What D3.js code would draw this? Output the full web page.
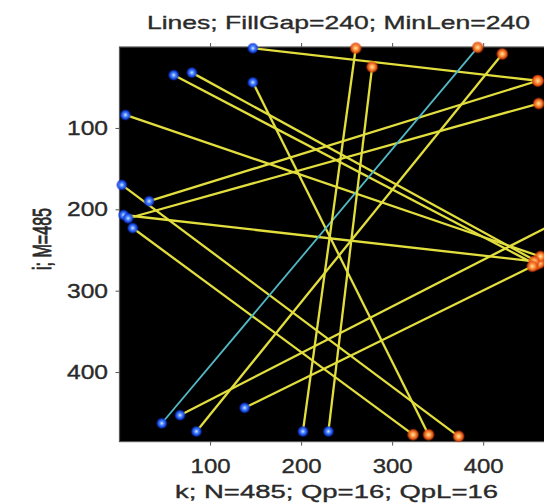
<!DOCTYPE html>
<html>
<head>
<meta charset="utf-8">
<script src="https://cdn.jsdelivr.net/npm/d3@7"></script>
<style>
  body { margin: 0; background: #fff; }
  text { font-family: "Liberation Sans", Arial, sans-serif; fill: #2a2a2a; stroke: #2a2a2a; stroke-width: 0.35; }
  .axis path, .axis line { stroke: #555; }
</style>
</head>
<body>
<div id="chart-area"><svg></svg></div>
<script>
const titleText = "Lines; FillGap=240; MinLen=240";
const xLabelText = "k; N=485; Qp=16; QpL=16";
const yLabelText = "i; M=485";

const xTicks = [100, 200, 300, 400];
const yTicks = [100, 200, 300, 400];

// line segments: start (blue) and end (orange), k = column, i = row
const startK = [147, 60, 80, 147, 7, 3, 33, 5, 10, 15, 47, 67, 85, 138, 202, 230];
const startI = [2, 35, 32, 44, 84, 170, 190, 207, 211, 223, 463, 453, 473, 444, 473, 473];
const endK = [460, 458, 462, 340, 463, 373, 460, 456, 461, 323, 394, 484, 421, 454, 260, 278];
const endI = [42, 268, 266, 477, 258, 479, 42, 264, 70, 477, 1, 214, 9, 270, 2, 25];
const highlighted = [10];

const chartSize = { width: 544, height: 503 };
const plot = { left: 119.5, right: 561, top: 47, bottom: 441.6 };

const initChart = () => {
  const svg = d3
    .select("#chart-area svg")
    .attr("width", chartSize.width)
    .attr("height", chartSize.height);

  const defs = svg.append("defs");
  const gradient = (id, stops) => {
    const g = defs.append("radialGradient").attr("id", id);
    stops.forEach(([o, c]) => g.append("stop").attr("offset", o).attr("stop-color", c.c).attr("stop-opacity", c.a));
  };
  gradient("blueDot", [
    ["0%", { c: "#d8e6ff", a: 1 }],
    ["35%", { c: "#4a86ff", a: 1 }],
    ["70%", { c: "#1444e6", a: 0.9 }],
    ["100%", { c: "#0020c0", a: 0 }]
  ]);
  gradient("orangeDot", [
    ["0%", { c: "#ffe2a8", a: 1 }],
    ["35%", { c: "#ff9c44", a: 1 }],
    ["70%", { c: "#e85414", a: 0.9 }],
    ["100%", { c: "#d02800", a: 0 }]
  ]);
  return svg;
};

const drawChart = svg => {
  const x = d3.scaleLinear().domain([0.5, 485.5]).range([plot.left, plot.right]);
  const y = d3.scaleLinear().domain([0.5, 485.5]).range([plot.top, plot.bottom]);

  svg.append("rect")
    .attr("x", x(0.5))
    .attr("y", y(0.5))
    .attr("width", x(485.5) - x(0.5))
    .attr("height", y(485.5) - y(0.5))
    .attr("fill", "#000")
    .attr("stroke", "#555")
    .attr("stroke-width", 1.2);

  const xAxis = d3.axisBottom(x).tickValues(xTicks).tickSize(4).tickSizeOuter(0);
  const xAxisTop = d3.axisTop(x).tickValues(xTicks).tickSize(4).tickSizeOuter(0).tickFormat("");
  const yAxis = d3.axisLeft(y).tickValues(yTicks).tickSize(4).tickPadding(7.5).tickSizeOuter(0);

  const gx = svg.append("g")
    .attr("class", "x axis")
    .attr("transform", `translate(0,${plot.bottom})`)
    .call(xAxis);
  gx.selectAll("text")
    .attr("y", 31)
    .attr("dy", 0)
    .attr("font-size", 20)
    .attr("textLength", 40)
    .attr("lengthAdjust", "spacingAndGlyphs")
    .style("fill", "#2a2a2a");

  svg.append("g")
    .attr("class", "x axis")
    .attr("transform", `translate(0,${plot.top})`)
    .call(xAxisTop);

  const gy = svg.append("g")
    .attr("class", "y axis")
    .attr("transform", `translate(${plot.left},0)`)
    .call(yAxis);
  gy.selectAll("text")
    .attr("font-size", 20)
    .attr("textLength", 41)
    .attr("lengthAdjust", "spacingAndGlyphs")
    .style("fill", "#2a2a2a");
  svg.selectAll(".axis .domain").remove();

  const segments = startK.map((k, n) => ({
    k0: k, i0: startI[n], k1: endK[n], i1: endI[n], hi: highlighted.includes(n)
  }));

  svg.append("g")
    .selectAll("line")
    .data(segments)
    .enter()
    .append("line")
    .attr("x1", d => x(d.k0))
    .attr("y1", d => y(d.i0))
    .attr("x2", d => x(d.k1))
    .attr("y2", d => y(d.i1))
    .attr("stroke", d => (d.hi ? "#52b9c6" : "#e2de3e"))
    .attr("stroke-width", d => (d.hi ? 1.8 : 2.3));

  svg.append("g")
    .selectAll("circle")
    .data(segments)
    .enter()
    .append("circle")
    .attr("cx", d => x(d.k1))
    .attr("cy", d => y(d.i1))
    .attr("r", 6.5)
    .attr("fill", "url(#orangeDot)");

  svg.append("g")
    .selectAll("circle")
    .data(segments)
    .enter()
    .append("circle")
    .attr("cx", d => x(d.k0))
    .attr("cy", d => y(d.i0))
    .attr("r", 6)
    .attr("fill", "url(#blueDot)");

  svg.append("text")
    .attr("x", 338.5)
    .attr("y", 29)
    .attr("text-anchor", "middle")
    .attr("font-size", 19)
    .attr("textLength", 383)
    .attr("lengthAdjust", "spacingAndGlyphs")
    .text(titleText);

  svg.append("text")
    .attr("x", 336.5)
    .attr("y", 498)
    .attr("text-anchor", "middle")
    .attr("font-size", 18)
    .attr("textLength", 323)
    .attr("lengthAdjust", "spacingAndGlyphs")
    .text(xLabelText);

  svg.append("text")
    .attr("transform", "translate(51,239) scale(1.4,1) rotate(-90)")
    .attr("text-anchor", "middle")
    .attr("font-size", 18)
    .attr("textLength", 62)
    .attr("lengthAdjust", "spacingAndGlyphs")
    .style("stroke-width", 0.6)
    .text(yLabelText);
};

const main = () => {
  const svg = initChart();
  drawChart(svg);
};

window.onload = main;
</script>
</body>
</html>
